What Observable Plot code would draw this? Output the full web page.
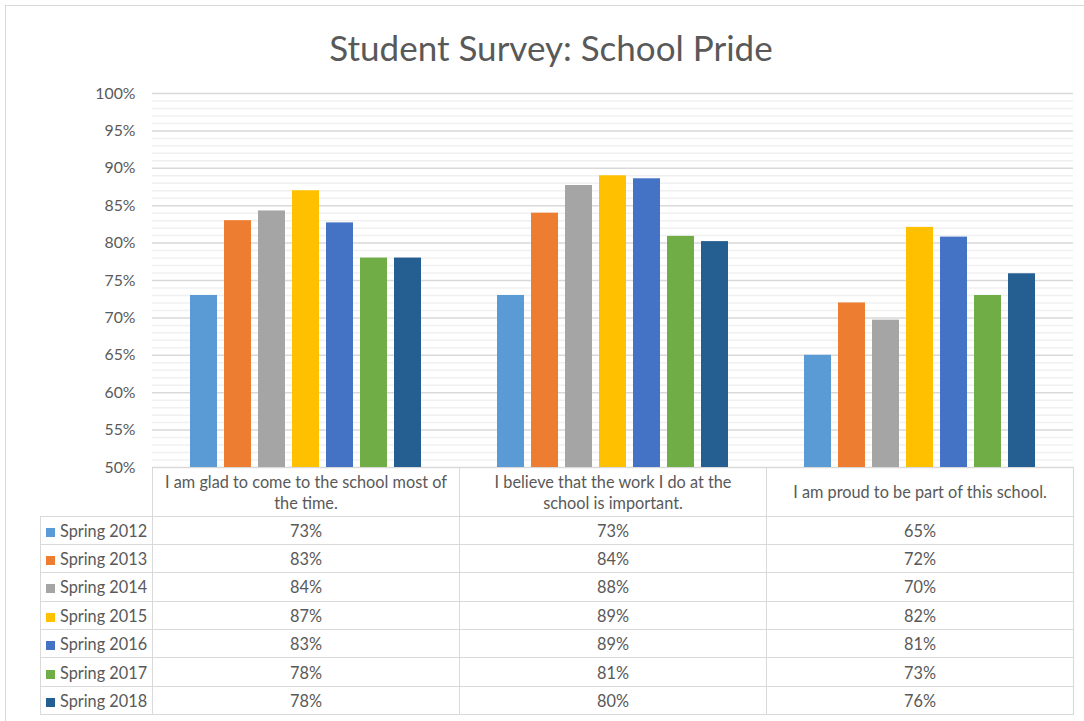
<!DOCTYPE html>
<html>
<head>
<meta charset="utf-8">
<script src="https://cdn.jsdelivr.net/npm/d3@7"></script>
<script src="https://cdn.jsdelivr.net/npm/@observablehq/plot@0.6"></script>
<style>
  body { margin: 0; background: #fff; font-family: Lato, "Open Sans", sans-serif; color: #595959; }
  #wrap { position: relative; width: 1084px; height: 721px; overflow: hidden; }
  #frame { position: absolute; left: 5px; top: 5px; width: 1100px; height: 740px; border: 1.5px solid #d9d9d9; box-sizing: border-box; }
  #title { position: absolute; left: 0; width: 1102px; top: 27px; text-align: center; font-size: 35px; line-height: 40px; color: #595959; }
  #chart { position: absolute; left: 0; top: 0; }
  #chart svg { overflow: visible; }
  table { position: absolute; left: 40px; top: 466.5px; border-collapse: collapse; table-layout: fixed; width: 1033.5px; }
  td { border: 1.5px solid #d9d9d9; text-align: center; font-size: 16.3px; padding: 0; color: #595959; white-space: nowrap; }
  tr.head td { height: 48px; line-height: 21px; }
  tr.head td.blank { border: none; border-bottom: 1.5px solid #d9d9d9; }
  tr.row td { height: 27.4px; }
  td.lab { text-align: left; padding-left: 5px; }
  .sw { display: inline-block; width: 9px; height: 9px; margin-right: 5px; vertical-align: 0px; }
</style>
</head>
<body>
<div id="wrap">
  <div id="frame"></div>
  <div id="chart"></div>
  <div id="title"></div>
  <table id="tbl"></table>
</div>
<script>
const chartTitle = "Student Survey: School Pride";
const questions = [
  "I am glad to come to the school most of the time.",
  "I believe that the work I do at the school is important.",
  "I am proud to be part of this school."
];
const questionLines = [
  ["I am glad to come to the school most of", "the time."],
  ["I believe that the work I do at the", "school is important."],
  ["I am proud to be part of this school."]
];
const seasons = ["Spring 2012", "Spring 2013", "Spring 2014", "Spring 2015", "Spring 2016", "Spring 2017", "Spring 2018"];
const seasonColors = ["#5B9BD5", "#ED7D31", "#A5A5A5", "#FFC000", "#4472C4", "#70AD47", "#255E91"];
const gladValues = [73.0, 83.0, 84.3, 87.0, 82.7, 78.0, 78.0];
const believeValues = [73.0, 84.0, 87.7, 89.0, 88.6, 80.9, 80.2];
const proudValues = [65.0, 72.0, 69.7, 82.1, 80.8, 73.0, 75.9];
const majorTicks = [50, 55, 60, 65, 70, 75, 80, 85, 90, 95, 100];
const minorTicks = d3.range(50, 101, 1).filter(v => v % 5 !== 0);

const seriesByQuestion = [gladValues, believeValues, proudValues];
const data = questions.flatMap((q, i) =>
  seasons.map((s, j) => ({question: q, season: s, value: seriesByQuestion[i][j]}))
);

const chart = Plot.plot({
  width: 1084,
  height: 480,
  marginTop: 93,
  marginBottom: 13,
  marginLeft: 152,
  marginRight: 11,
  style: {fontFamily: "Lato, 'Open Sans', sans-serif", color: "#595959", background: "transparent"},
  fx: {domain: questions, padding: 0, axis: null, label: null},
  x: {domain: seasons, paddingInner: 0.22, paddingOuter: 1.1, axis: null, label: null},
  y: {domain: [50, 100], axis: null, label: null},
  color: {domain: seasons, range: seasonColors},
  marks: [
    Plot.ruleY(minorTicks, {stroke: "#f0f0f0", strokeWidth: 1.5}),
    Plot.ruleY(majorTicks, {stroke: "#d9d9d9", strokeWidth: 1.5}),
    Plot.barY(data, {fx: "question", x: "season", y1: 50, y2: "value", fill: "season"}),
    Plot.axisY(majorTicks, {tickSize: 0, tickPadding: 17, tickFormat: d => d + "%", fontSize: 15.8, fill: "#595959", label: null})
  ]
});
document.getElementById("chart").appendChild(chart);
document.getElementById("title").textContent = chartTitle;

// data table
const tbl = d3.select("#tbl");
const cg = tbl.append("colgroup");
cg.append("col").style("width", "112px");
questions.forEach(() => cg.append("col").style("width", "307px"));
const head = tbl.append("tr").attr("class", "head");
head.append("td").attr("class", "blank");
questionLines.forEach(lines => {
  head.append("td").html(lines.join("<br>"));
});
seasons.forEach((s, j) => {
  const tr = tbl.append("tr").attr("class", "row");
  const lab = tr.append("td").attr("class", "lab");
  lab.append("span").attr("class", "sw").style("background", seasonColors[j]);
  lab.append("span").text(s);
  seriesByQuestion.forEach(vals => {
    tr.append("td").text(Math.round(vals[j]) + "%");
  });
});
</script>
</body>
</html>
